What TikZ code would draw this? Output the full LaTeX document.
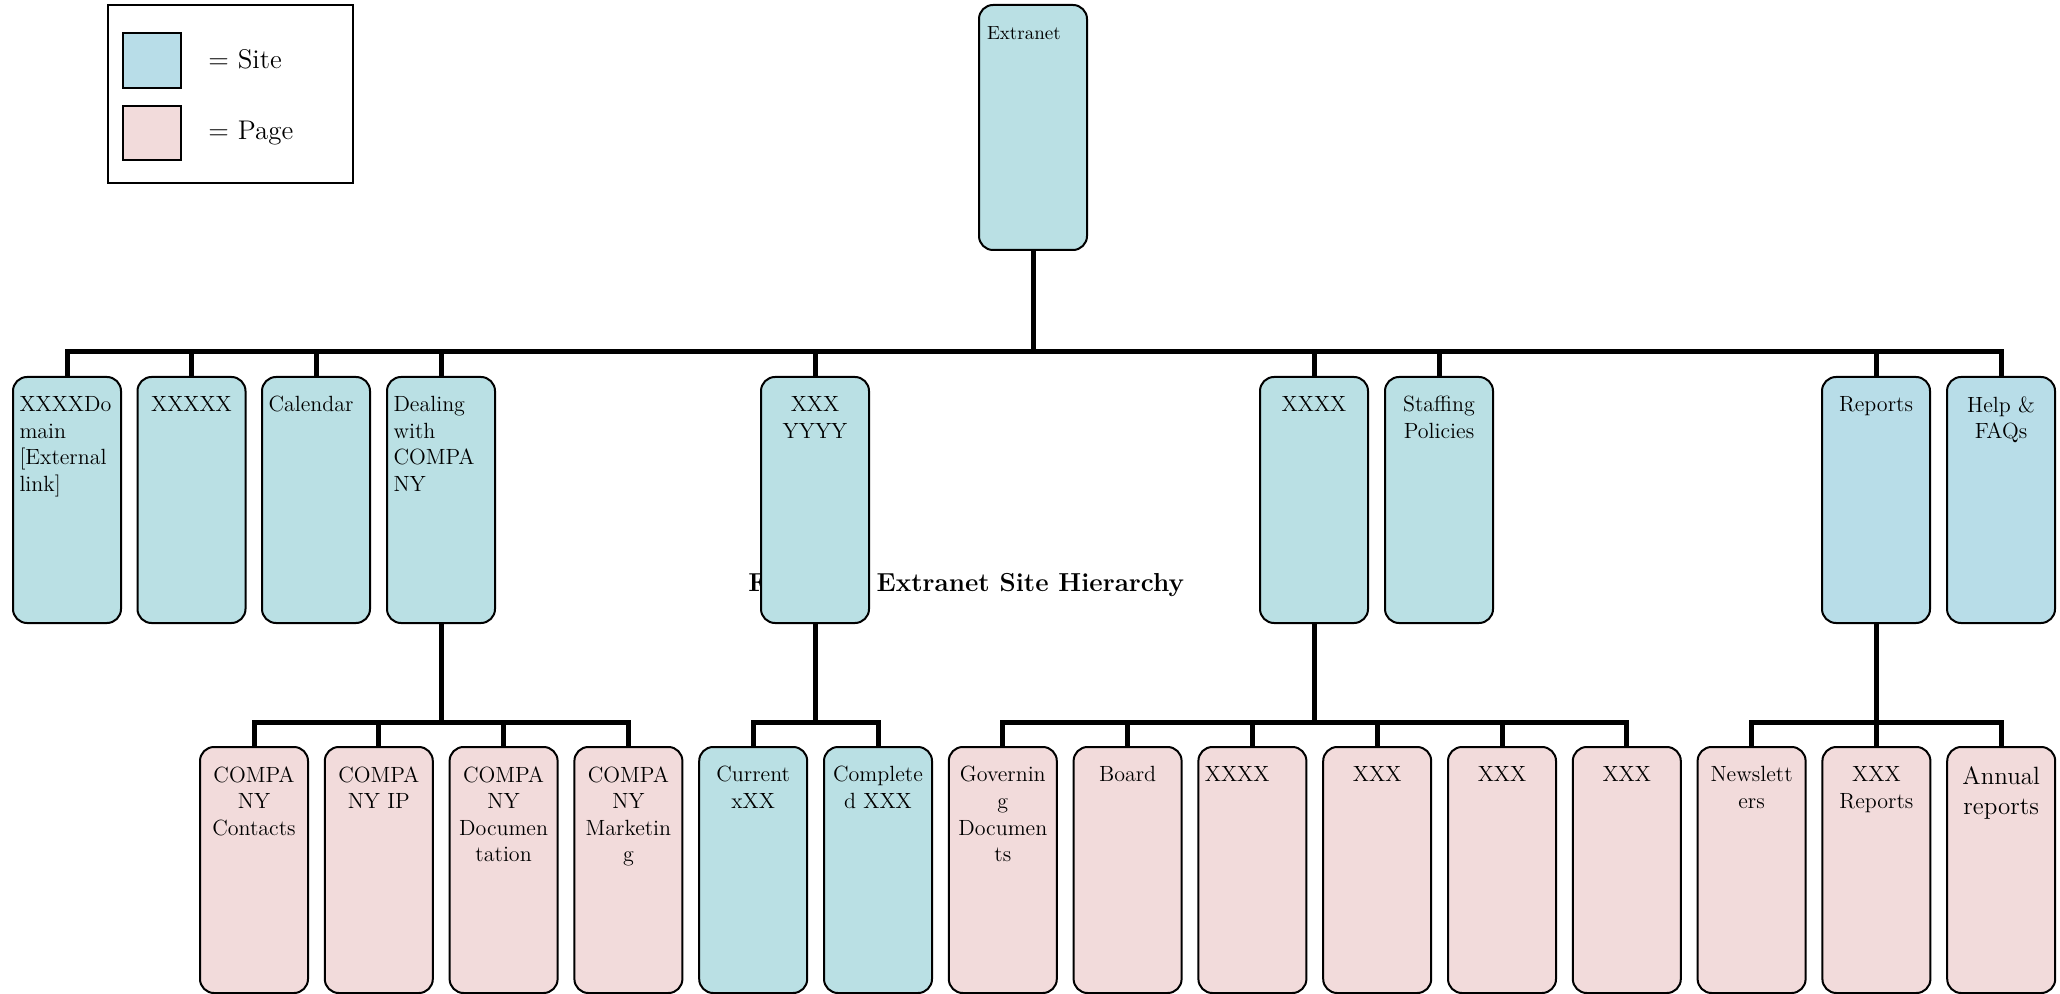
\documentclass[tikz,border=0pt]{standalone}
\usepackage{xcolor}
\definecolor{siteA}{HTML}{BAE0E4}
\definecolor{siteB}{HTML}{B8DDE8}
\definecolor{pageC}{HTML}{F2DBDB}
\tikzset{
 box/.style={draw=black, line width=1pt, rounded corners=7pt, minimum width=54pt, minimum height=123pt, inner sep=0pt},
 site/.style={box, fill=siteA},
 siteb/.style={box, fill=siteB},
 page/.style={box, fill=pageC},
 txt/.style={anchor=north, yshift=-10pt, inner sep=0pt, font=\fontsize{11}{13.3}\selectfont},
 txtc/.style={txt, text width=52pt, align=center},
 txtl/.style={txt, text width=47.5pt, align=left},
 link/.style={line width=2.5pt, line join=miter},
}
\begin{document}
\begin{tikzpicture}[x=0.5pt,y=-0.5pt]
\useasboundingbox (0,0) rectangle (2060,994);
% legend
\node[draw=black, line width=1pt, minimum width=122.5pt, minimum height=89pt, inner sep=0pt] (legend) at (230.5,94) {};
\node[draw=black, line width=1pt, fill=siteB, minimum width=29pt, minimum height=27.5pt, inner sep=0pt] (sw1) at (152,60.5) {};
\node[draw=black, line width=1pt, fill=pageC, minimum width=29pt, minimum height=27pt, inner sep=0pt] (sw2) at (152,133) {};
\node[anchor=base west, inner sep=0pt, font=\fontsize{13.5}{16}\selectfont] (lt1) at (208,69) {= Site};
\node[anchor=base west, inner sep=0pt, font=\fontsize{13.5}{16}\selectfont] (lt2) at (208,140) {= Page};
% title (partly hidden)
\node[anchor=base west, inner sep=0pt, font=\bfseries\fontsize{13}{15.5}\selectfont] (title) at (748,591) {Figure 1: Extranet Site Hierarchy};
% root
\node[site, minimum height=122.5pt, label={[txt, yshift=-1pt, text width=46pt, align=left, font=\fontsize{9.5}{11.5}\selectfont]north:Extranet}] (ext) at (1033,127.5) {};
% level 1
\node[site, label={[txtl]north:XXXXDo\\main\\{[External}\\link]}] (n1) at (67,500) {};
\node[site, label={[txtc]north:XXXXX}] (n2) at (191.5,500) {};
\node[site, label={[txtl]north:Calendar}] (n3) at (316,500) {};
\node[site, label={[txtl]north:Dealing\\with\\COMPA\\NY}] (n4) at (441,500) {};
\node[site, label={[txtc]north:XXX\\YYYY}] (n5) at (815,500) {};
\node[site, label={[txtc]north:XXXX}] (n6) at (1314,500) {};
\node[site, label={[txtc]north:Staffing\\Policies}] (n7) at (1439,500) {};
\node[siteb, label={[txtc]north:Reports}] (n8) at (1876,500) {};
\node[siteb, label={[txtc]north:Help \&\\FAQs}] (n9) at (2001,500) {};
% level 2
\node[page, label={[txtc]north:COMPA\\NY\\Contacts}] (c1) at (254,870) {};
\node[page, label={[txtc]north:COMPA\\NY IP}] (c2) at (378.8,870) {};
\node[page, label={[txtc]north:COMPA\\NY\\Documen\\tation}] (c3) at (503.6,870) {};
\node[page, label={[txtc]north:COMPA\\NY\\Marketin\\g}] (c4) at (628.4,870) {};
\node[site, label={[txtc]north:Current\\xXX}] (c5) at (753.2,870) {};
\node[site, label={[txtc]north:Complete\\d XXX}] (c6) at (878,870) {};
\node[page, label={[txtc]north:Governin\\g\\Documen\\ts}] (c7) at (1002.8,870) {};
\node[page, label={[txtc]north:Board}] (c8) at (1127.6,870) {};
\node[page, label={[txtl]north:XXXX}] (c9) at (1252.4,870) {};
\node[page, label={[txtc]north:XXX}] (c10) at (1377.2,870) {};
\node[page, label={[txtc]north:XXX}] (c11) at (1502,870) {};
\node[page, label={[txtc]north:XXX}] (c12) at (1626.8,870) {};
\node[page, label={[txtc]north:Newslett\\ers}] (c13) at (1751.6,870) {};
\node[page, label={[txtc]north:XXX\\Reports}] (c14) at (1876.4,870) {};
\node[page, label={[txtc, font=\fontsize{12.5}{15}\selectfont]north:Annual\\reports}] (c15) at (2001.2,870) {};
% connectors
\coordinate (bar1) at (1033,352);
\draw[link] (ext.south) -- (bar1);
\foreach \n in {n1,n2,n3,n4,n5,n6,n7,n8,n9} \draw[link] (\n.north) |- (bar1);
\coordinate (bar2) at (441,722);
\draw[link] (n4.south) -- (bar2);
\foreach \n in {c1,c2,c3,c4} \draw[link] (\n.north) |- (bar2);
\coordinate (bar3) at (815,722);
\draw[link] (n5.south) -- (bar3);
\foreach \n in {c5,c6} \draw[link] (\n.north) |- (bar3);
\coordinate (bar4) at (1314,722);
\draw[link] (n6.south) -- (bar4);
\foreach \n in {c7,c8,c9,c10,c11,c12} \draw[link] (\n.north) |- (bar4);
\coordinate (bar5) at (1876,722);
\draw[link] (n8.south) -- (bar5);
\foreach \n in {c13,c14,c15} \draw[link] (\n.north) |- (bar5);
\end{tikzpicture}
\end{document}
